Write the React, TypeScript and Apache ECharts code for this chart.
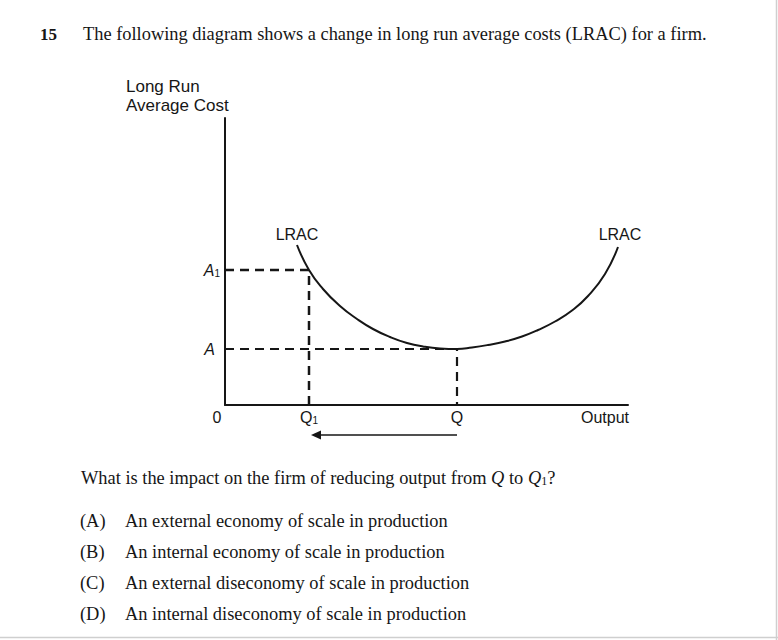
import React, { useEffect, useRef } from "react";
import * as echarts from "echarts";

// ---- texts ----
const questionNumber = "15";
const questionTitle =
  "The following diagram shows a change in long run average costs (LRAC) for a firm.";
const yAxisTitleLines = ["Long Run", "Average Cost"];
const xAxisTitle = "Output";
const curveName = "LRAC";
const originLabel = "0";
const questionText = "What is the impact on the firm of reducing output from {i|Q} to {i|Q}{s|1}?";
const optionLetters = ["(A)", "(B)", "(C)", "(D)"];
const optionTexts = [
  "An external economy of scale in production",
  "An internal economy of scale in production",
  "An external diseconomy of scale in production",
  "An internal diseconomy of scale in production",
];

// ---- axis extents (chart units) ----
const X_MAX = 403;
const Y_MAX = 287;

// ---- key values ----
const Q1 = 84;
const Q = 232;
const A1 = 135;
const A = 56;
const ARROW_LEVEL = -30;

// ---- LRAC curve ----
const lracX = [72, 84, 98, 115, 132, 148, 165, 182, 198, 215, 232, 247, 263, 280, 297, 313, 330, 347, 363, 380, 393];
const lracY = [160, 135, 116, 99, 86, 76, 68, 62, 58.5, 56.5, 56, 57.5, 60, 63.5, 68.5, 75, 83.5, 94.5, 109, 131, 158];

const INK = "#161616";
const SANS = '"Liberation Sans", Arial, sans-serif';
const SERIF = '"Liberation Serif", "Times New Roman", serif';
const SERIF_SIZE = 18.4;

export default function App() {
  const ref = useRef<HTMLDivElement>(null);

  useEffect(() => {
    if (!ref.current) return;
    const chart = echarts.init(ref.current, undefined, { renderer: "svg" });

    const gridLeft = 225;
    const gridTop = 118;
    const gridW = 403;
    const gridH = 287;

    const curveData = lracX.map((x, i) => [x, lracY[i]]);

    const graphics: any[] = [
      {
        type: "text",
        x: 40,
        y: 34,
        style: {
          text: questionNumber,
          font: `bold 17px ${SERIF}`,
          fill: INK,
          textAlign: "left",
          textVerticalAlign: "middle",
        },
      },
      {
        type: "text",
        x: 83,
        y: 34,
        style: {
          text: questionTitle,
          font: `${SERIF_SIZE}px ${SERIF}`,
          fill: INK,
          textAlign: "left",
          textVerticalAlign: "middle",
        },
      },
      {
        type: "text",
        x: 126,
        y: 86,
        style: {
          text: yAxisTitleLines[0],
          font: `17px ${SANS}`,
          fill: INK,
          textAlign: "left",
          textVerticalAlign: "middle",
        },
      },
      {
        type: "text",
        x: 126,
        y: 105,
        style: {
          text: yAxisTitleLines[1],
          font: `17px ${SANS}`,
          fill: INK,
          textAlign: "left",
          textVerticalAlign: "middle",
        },
      },
      {
        type: "text",
        x: 297,
        y: 234,
        style: {
          text: curveName,
          font: `16px ${SANS}`,
          fill: INK,
          textAlign: "center",
          textVerticalAlign: "middle",
        },
      },
      {
        type: "text",
        x: 620,
        y: 234,
        style: {
          text: curveName,
          font: `16px ${SANS}`,
          fill: INK,
          textAlign: "center",
          textVerticalAlign: "middle",
        },
      },
      {
        type: "text",
        x: 217,
        y: 417,
        style: {
          text: originLabel,
          font: `16px ${SANS}`,
          fill: INK,
          textAlign: "center",
          textVerticalAlign: "middle",
        },
      },
      {
        type: "text",
        x: 629,
        y: 417,
        style: {
          text: xAxisTitle,
          font: `16px ${SANS}`,
          fill: INK,
          textAlign: "right",
          textVerticalAlign: "middle",
        },
      },
      {
        type: "text",
        x: 81,
        y: 478,
        style: {
          text: questionText,
          font: `${SERIF_SIZE}px ${SERIF}`,
          fill: INK,
          textAlign: "left",
          textVerticalAlign: "middle",
          rich: {
            i: { fontFamily: SERIF, fontSize: SERIF_SIZE, fontStyle: "italic", fill: INK },
            s: { fontFamily: SERIF, fontSize: 12, fill: INK, verticalAlign: "bottom", lineHeight: 12 },
          },
        },
      },
      {
        type: "line",
        shape: { x1: 776.5, y1: 0, x2: 776.5, y2: 640 },
        style: { stroke: "#cfcfcf", lineWidth: 1.5 },
      },
      {
        type: "line",
        shape: { x1: 0, y1: 637.5, x2: 778, y2: 637.5 },
        style: { stroke: "#cfcfcf", lineWidth: 1.5 },
      },
    ];

    const optionYs = [521, 552, 583, 614];
    optionLetters.forEach((l, i) => {
      graphics.push({
        type: "text",
        x: 80,
        y: optionYs[i],
        style: {
          text: l,
          font: `${SERIF_SIZE}px ${SERIF}`,
          fill: INK,
          textAlign: "left",
          textVerticalAlign: "middle",
        },
      });
      graphics.push({
        type: "text",
        x: 125,
        y: optionYs[i],
        style: {
          text: optionTexts[i],
          font: `${SERIF_SIZE}px ${SERIF}`,
          fill: INK,
          textAlign: "left",
          textVerticalAlign: "middle",
        },
      });
    });

    const option: any = {
      animation: false,
      backgroundColor: "#ffffff",
      grid: { left: gridLeft, top: gridTop, width: gridW, height: gridH, containLabel: false },
      xAxis: {
        type: "value",
        min: 0,
        max: X_MAX,
        splitLine: { show: false },
        axisTick: { show: false },
        axisLine: { show: true, onZero: false, lineStyle: { color: INK, width: 2 } },
        axisLabel: {
          show: true,
          customValues: [Q1, Q],
          margin: 4,
          color: INK,
          formatter: (v: number) => (v === Q1 ? "{q|Q}{s|1}" : "{q|Q}"),
          rich: {
            q: { fontFamily: SANS, fontSize: 16, color: INK },
            s: { fontFamily: SANS, fontSize: 10, color: INK, verticalAlign: "bottom", lineHeight: 12 },
          },
        },
      },
      yAxis: {
        type: "value",
        min: 0,
        max: Y_MAX,
        splitLine: { show: false },
        axisTick: { show: false },
        axisLine: { show: true, onZero: false, lineStyle: { color: INK, width: 2 } },
        axisLabel: {
          show: true,
          customValues: [A, A1],
          margin: 5,
          color: INK,
          formatter: (v: number) => (v === A1 ? "{i|A}{s|1}" : "{j|A}"),
          rich: {
            i: { fontFamily: SANS, fontSize: 16, fontStyle: "italic", color: INK },
            j: { fontFamily: SANS, fontSize: 16, fontStyle: "italic", color: INK, padding: [0, 5, 0, 0] },
            s: { fontFamily: SANS, fontSize: 10, color: INK, verticalAlign: "bottom", lineHeight: 12 },
          },
        },
      },
      graphic: graphics,
      series: [
        {
          type: "line",
          name: "A1 guide",
          data: [[0, A1], [Q1, A1], [Q1, 0]],
          symbol: "none",
          lineStyle: { color: INK, width: 2.5, type: [9, 6] },
          z: 2,
        },
        {
          type: "line",
          name: "A guide",
          data: [[0, A], [Q, A], [Q, 0]],
          symbol: "none",
          lineStyle: { color: INK, width: 2.2, type: [9, 6] },
          z: 2,
        },
        {
          type: "line",
          name: "LRAC",
          data: curveData,
          symbol: "none",
          smooth: 0.5,
          lineStyle: { color: INK, width: 2 },
          z: 3,
        },
        {
          type: "line",
          name: "arrow",
          clip: false,
          showSymbol: true,
          symbol: "none",
          data: [
            [Q, ARROW_LEVEL],
            {
              value: [Q1 + 7, ARROW_LEVEL],
              symbol: "triangle",
              symbolRotate: 90,
              symbolSize: [9, 10],
              itemStyle: { color: INK },
            },
          ],
          lineStyle: { color: INK, width: 1.4 },
          itemStyle: { color: INK },
          z: 3,
        },
      ],
    };

    chart.setOption(option);
    return () => chart.dispose();
  }, []);

  return (
    <div
      ref={ref}
      style={{ position: "fixed", left: 0, top: 0, width: 778, height: 640, background: "#fff" }}
    />
  );
}
